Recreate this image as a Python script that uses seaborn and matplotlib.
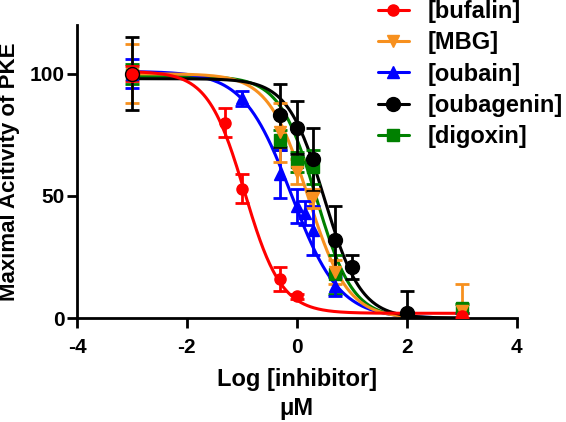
import numpy as np
import pandas as pd
import matplotlib
matplotlib.use('Agg')
import matplotlib.pyplot as plt
from matplotlib.lines import Line2D
import seaborn as sns

# measured points (log uM, % activity, error)
bufalin_x = [-3, -1.3, -1, -0.3, 0, 3]
bufalin_y = [100, 80, 53, 16, 9, 1]
bufalin_err = [3, 6, 6, 5, 1, 1]

mbg_x = [-3, -0.3, 0, 0.3, 0.7, 3]
mbg_y = [100, 76, 60, 49, 19, 3]
mbg_err = [12, 12, 5, 4, 5, 11]

oubain_x = [-3, -1, -0.3, 0, 0.15, 0.3, 0.7, 3]
oubain_y = [100, 90, 59, 46, 43, 36, 13, 0]
oubain_err = [6, 3, 10, 7, 5, 10, 4, 2]

oubagenin_x = [-3, -0.3, 0, 0.3, 0.7, 1, 2]
oubagenin_y = [100, 83, 78, 65, 32, 21, 2]
oubagenin_err = [15, 13, 11, 13, 14, 5, 9]

digoxin_x = [-3, -0.3, 0, 0.3, 0.7, 3]
digoxin_y = [100, 73, 64, 62, 18, 4]
digoxin_err = [4, 4, 4, 7, 8, 2]

# fitted dose-response parameters: top, bottom, logIC50, hill
fit_params = {
    '[bufalin]': (101, 2, -0.95, 1.3),
    '[MBG]': (100, 0, 0.2, 1.2),
    '[oubain]': (101, 0, -0.1, 1.0),
    '[oubagenin]': (98, 0, 0.5, 1.3),
    '[digoxin]': (99, 0, 0.35, 1.3),
}

series = [
    ('[digoxin]', digoxin_x, digoxin_y, digoxin_err, '#008000', 's', 8),
    ('[oubain]', oubain_x, oubain_y, oubain_err, '#0000FF', '^', 9),
    ('[MBG]', mbg_x, mbg_y, mbg_err, '#F7901E', 'v', 8),
    ('[oubagenin]', oubagenin_x, oubagenin_y, oubagenin_err, 'black', 'o', 10),
    ('[bufalin]', bufalin_x, bufalin_y, bufalin_err, '#FF0000', 'o', 8),
]
legend_order = ['[bufalin]', '[MBG]', '[oubain]', '[oubagenin]', '[digoxin]']

sns.set_style('ticks')
plt.rcParams['font.family'] = ['Liberation Sans', 'DejaVu Sans']
plt.rcParams['font.weight'] = 'bold'
plt.rcParams['axes.unicode_minus'] = False
for k in ['text.color', 'axes.labelcolor', 'xtick.color', 'ytick.color', 'axes.edgecolor']:
    plt.rcParams[k] = 'black'

fig = plt.figure(figsize=(5.66, 4.22), dpi=100)
ax = fig.add_axes([0.136, 0.246, 0.777, 0.695])

xs = np.linspace(-3, 3, 300)
handles = {}
for name, x, y, err, color, marker, ms in series:
    top, bottom, c, h = fit_params[name]
    curve = pd.DataFrame({'x': xs, 'y': bottom + (top - bottom) / (1 + 10 ** ((xs - c) * h))})
    sns.lineplot(data=curve, x='x', y='y', ax=ax, color=color, lw=2.2)
    ax.errorbar(x, y, yerr=err, fmt=marker, color=color, ms=ms, elinewidth=2,
                capsize=5, capthick=2, zorder=3)
    handles[name] = Line2D([], [], color=color, marker=marker, ms=ms, lw=2.2)

ax.set_xlim(-4, 4)
ax.set_ylim(0, 120)
ax.set_xticks([-4, -2, 0, 2, 4])
ax.set_yticks([0, 50, 100])
ax.spines['top'].set_visible(False)
ax.spines['right'].set_visible(False)
for s in ['left', 'bottom']:
    ax.spines[s].set_linewidth(2)
ax.tick_params(width=2, length=7, labelsize=15)
ax.tick_params(axis='x', pad=7)
ax.tick_params(axis='y', pad=2)
for lab in ax.get_xticklabels() + ax.get_yticklabels():
    lab.set_fontweight('bold')
ax.set_xlabel('Log [inhibitor]\n\u03bcM', fontsize=17, fontweight='bold', linespacing=1.35,
              labelpad=8)
ax.set_ylabel('Maximal Acitivity of PKE', fontsize=16, fontweight='bold', labelpad=7)

leg = fig.legend([handles[n] for n in legend_order], legend_order, loc='upper left',
                 bbox_to_anchor=(0.668, 1.0), frameon=False, fontsize=17,
                 handlelength=1.3, labelspacing=0.35, handletextpad=0.8,
                 borderpad=0, borderaxespad=0)
for t in leg.get_texts():
    t.set_fontweight('bold')

fig.savefig('out.png', dpi=100)
